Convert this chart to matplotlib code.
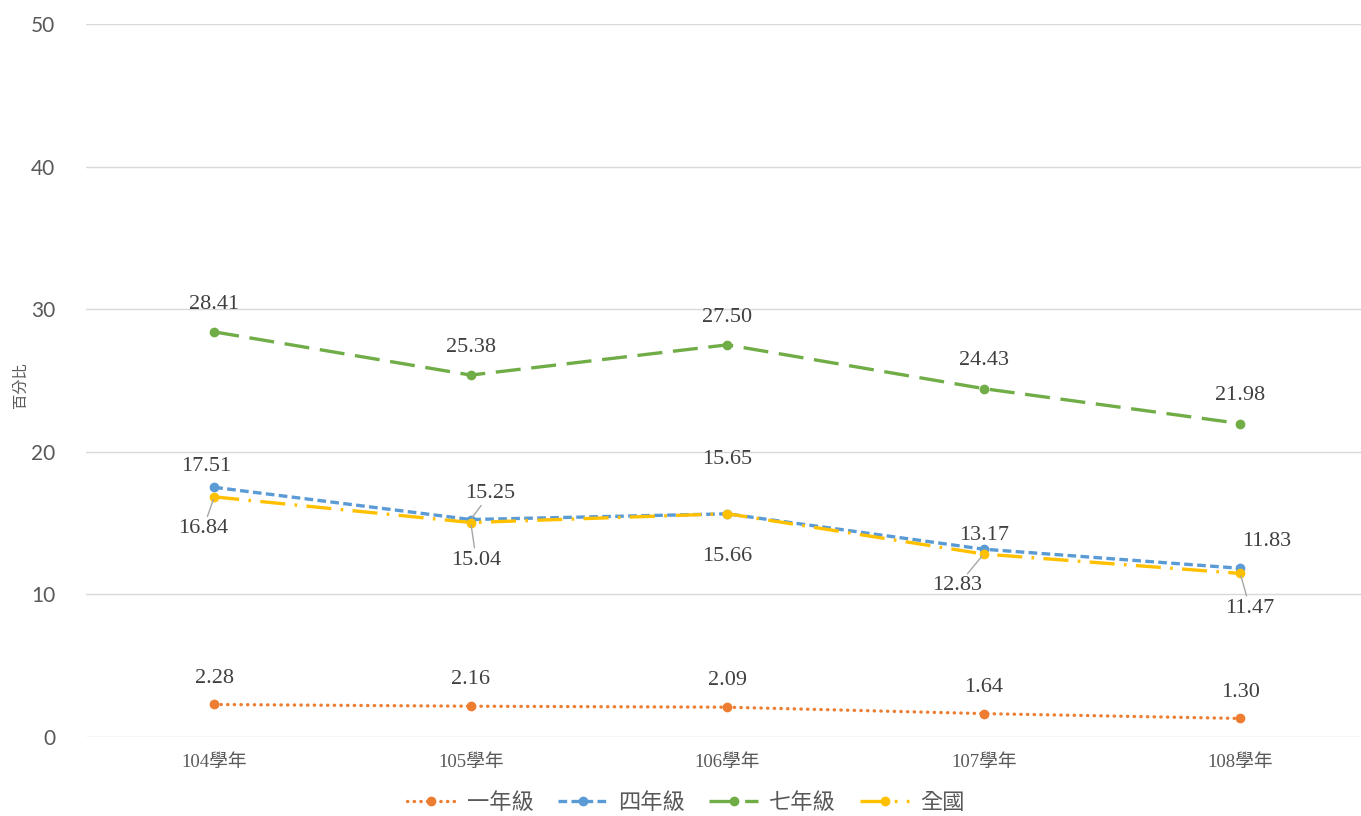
import matplotlib.pyplot as plt
import numpy as np

years = ['104學年', '105學年', '106學年', '107學年', '108學年']
grade1 = [2.28, 2.16, 2.09, 1.64, 1.30]
grade4 = [17.51, 15.25, 15.65, 13.17, 11.83]
grade7 = [28.41, 25.38, 27.50, 24.43, 21.98]
national = [16.84, 15.04, 15.66, 12.83, 11.47]

# label offsets in points (dx, dy) and whether a leader line is drawn
g4_offsets = [(-6, 15), (14, 19), (0, 39), (0, 10), (19, 19)]
g4_leader = [False, True, False, False, False]
nat_offsets = [(-8, -23), (4, -27), (0, -31), (-19, -23), (7, -25)]
nat_leader = [True, True, False, True, True]

cjk = ['Noto Sans CJK TC', 'DejaVu Sans']
serif_cjk = ['Liberation Serif', 'Noto Sans CJK TC']
label_color = '#404040'
tick_color = '#595959'

fig = plt.figure(figsize=(13.61, 8.16), dpi=100)
ax = fig.add_axes([86 / 1361, 79 / 816, 1275 / 1361, 713 / 816])

x = np.arange(len(years))

ax.plot(x, grade1, color='#ED7D31', lw=2.4, linestyle=(0, (0.1, 1.9)), dash_capstyle='round',
        marker='o', markersize=6, label='一年級')
ax.plot(x, grade4, color='#5B9BD5', lw=2.4, linestyle=(0, (2.6, 1.3)),
        marker='o', markersize=6, label='四年級')
ax.plot(x, grade7, color='#70AD47', lw=2.4, linestyle=(0, (7.5, 3.2)),
        marker='o', markersize=6, label='七年級')
ax.plot(x, national, color='#FFC000', lw=2.4, linestyle=(0, (7.5, 2.8, 0.8, 2.8)),
        marker='o', markersize=6, label='全國')

for i, v in enumerate(grade1):
    ax.annotate(f'{v:.2f}', (i, v), xytext=(0, 19), textcoords='offset points',
                ha='center', va='center', fontsize=16, family='Liberation Serif', color=label_color)
for i, v in enumerate(grade7):
    ax.annotate(f'{v:.2f}', (i, v), xytext=(0, 20), textcoords='offset points',
                ha='center', va='center', fontsize=16, family='Liberation Serif', color=label_color)
for i, v in enumerate(grade4):
    arrow = dict(arrowstyle='-', color='#A6A6A6', lw=1, shrinkA=0, shrinkB=2) if g4_leader[i] else None
    ax.annotate(f'{v:.2f}', (i, v), xytext=g4_offsets[i], textcoords='offset points',
                ha='center', va='center', fontsize=16, family='Liberation Serif', color=label_color,
                arrowprops=arrow)
for i, v in enumerate(national):
    arrow = dict(arrowstyle='-', color='#A6A6A6', lw=1, shrinkA=0, shrinkB=2) if nat_leader[i] else None
    ax.annotate(f'{v:.2f}', (i, v), xytext=nat_offsets[i], textcoords='offset points',
                ha='center', va='center', fontsize=16, family='Liberation Serif', color=label_color,
                arrowprops=arrow)

ax.set_xlim(-0.5, -0.5 + 1275 / 256.5)
ax.set_ylim(0, 50)
ax.set_yticks([0, 10, 20, 30, 40, 50])
ax.set_xticks(x)
ax.set_xticklabels(years, family=serif_cjk, fontsize=13.5, color=tick_color)
for lab in ax.get_yticklabels():
    lab.set_family('Lato')
    lab.set_fontsize(15)
    lab.set_color(tick_color)
ax.tick_params(length=0)
ax.tick_params(axis='y', pad=22)
ax.tick_params(axis='x', pad=12)
ax.grid(True, axis='y', color='#D9D9D9', lw=1)
ax.set_axisbelow(True)
for s in ax.spines.values():
    s.set_visible(False)

fig.text(20 / 1361, 1 - 385 / 816, '百分比', rotation=90, ha='center', va='center',
         family=cjk, fontsize=11, color=tick_color)

fig.legend(loc='center', bbox_to_anchor=(0.504, 0.017), ncol=4, frameon=False,
           prop={'family': cjk, 'size': 16}, labelcolor=tick_color,
           handlelength=2.2, columnspacing=1.1, handletextpad=0.5)

fig.savefig('out.png', dpi=100)
